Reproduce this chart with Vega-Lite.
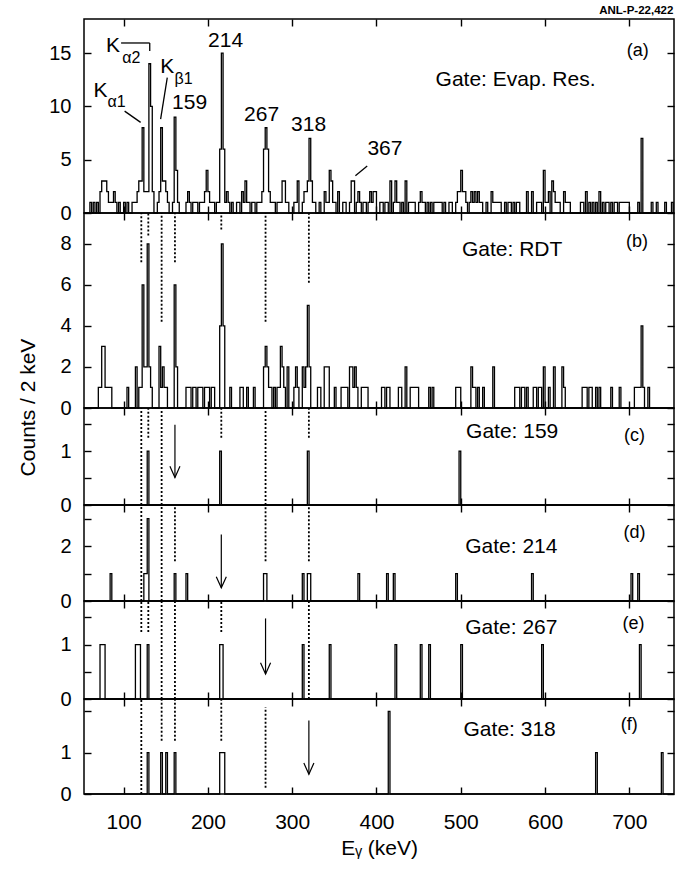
{
"$schema": "https://vega.github.io/schema/vega-lite/v6.json",
"padding": {"left": 16, "top": 5, "right": 0, "bottom": 0},
"background": "white",
"title": {"text": "ANL-P-22,422", "anchor": "end", "fontSize": 11.5, "fontWeight": "bold", "font": "Liberation Sans", "color": "black", "offset": 1, "dx": -4},
"spacing": 0,
"bounds": "flush",
"config": {
 "view": {"stroke": "black", "strokeWidth": 1.5},
 "axis": {"domain": false, "grid": false, "tickColor": "black", "tickWidth": 1.4, "tickSize": -7, "labelColor": "black", "labelFont": "Liberation Sans", "labelFontSize": 20, "labelPadding": 20, "labelFlush": false, "labelOverlap": false, "titleColor": "black", "titleFont": "Liberation Sans", "titleFontSize": 21, "titleFontWeight": "normal"},
 "text": {"font": "Liberation Sans", "color": "black"}
},
"datasets": {
 "sa": [{"e":53,"c":0},{"e":60,"c":1},{"e":62,"c":0},{"e":64,"c":1},{"e":66,"c":0},{"e":68,"c":1},{"e":70,"c":0},{"e":72,"c":2},{"e":74,"c":3},{"e":80,"c":2},{"e":82,"c":1},{"e":88,"c":2},{"e":90,"c":1},{"e":92,"c":0},{"e":94,"c":1},{"e":96,"c":0},{"e":100,"c":1},{"e":102,"c":0},{"e":104,"c":1},{"e":106,"c":0},{"e":110,"c":1},{"e":116,"c":2},{"e":118,"c":3},{"e":122,"c":8},{"e":124,"c":2},{"e":130,"c":14},{"e":132,"c":10},{"e":134,"c":2},{"e":136,"c":0},{"e":140,"c":1},{"e":142,"c":2},{"e":144,"c":8},{"e":146,"c":3},{"e":150,"c":2},{"e":152,"c":1},{"e":154,"c":0},{"e":158,"c":1},{"e":160,"c":9},{"e":162,"c":4},{"e":164,"c":1},{"e":166,"c":0},{"e":174,"c":1},{"e":176,"c":2},{"e":178,"c":1},{"e":180,"c":0},{"e":182,"c":1},{"e":188,"c":0},{"e":190,"c":1},{"e":196,"c":2},{"e":198,"c":4},{"e":200,"c":2},{"e":202,"c":1},{"e":208,"c":0},{"e":210,"c":1},{"e":214,"c":6},{"e":216,"c":15},{"e":218,"c":6},{"e":220,"c":1},{"e":222,"c":2},{"e":224,"c":1},{"e":226,"c":0},{"e":228,"c":1},{"e":230,"c":0},{"e":234,"c":1},{"e":238,"c":0},{"e":240,"c":2},{"e":242,"c":1},{"e":244,"c":3},{"e":246,"c":1},{"e":250,"c":0},{"e":252,"c":1},{"e":256,"c":0},{"e":258,"c":1},{"e":264,"c":2},{"e":266,"c":6},{"e":268,"c":8},{"e":270,"c":6},{"e":272,"c":2},{"e":274,"c":1},{"e":280,"c":0},{"e":282,"c":1},{"e":288,"c":3},{"e":292,"c":1},{"e":296,"c":0},{"e":302,"c":1},{"e":306,"c":3},{"e":308,"c":0},{"e":312,"c":1},{"e":314,"c":2},{"e":318,"c":3},{"e":320,"c":7},{"e":322,"c":3},{"e":324,"c":1},{"e":328,"c":0},{"e":332,"c":1},{"e":334,"c":0},{"e":338,"c":2},{"e":340,"c":1},{"e":344,"c":4},{"e":346,"c":3},{"e":348,"c":1},{"e":352,"c":0},{"e":354,"c":2},{"e":356,"c":0},{"e":360,"c":1},{"e":364,"c":0},{"e":368,"c":1},{"e":370,"c":3},{"e":374,"c":0},{"e":376,"c":1},{"e":378,"c":2},{"e":380,"c":1},{"e":382,"c":0},{"e":384,"c":1},{"e":388,"c":0},{"e":390,"c":1},{"e":392,"c":2},{"e":394,"c":1},{"e":396,"c":2},{"e":400,"c":0},{"e":404,"c":1},{"e":408,"c":0},{"e":410,"c":1},{"e":414,"c":0},{"e":416,"c":3},{"e":418,"c":0},{"e":420,"c":1},{"e":422,"c":3},{"e":424,"c":1},{"e":428,"c":0},{"e":430,"c":1},{"e":432,"c":0},{"e":434,"c":3},{"e":436,"c":0},{"e":438,"c":1},{"e":446,"c":0},{"e":450,"c":1},{"e":452,"c":2},{"e":454,"c":1},{"e":458,"c":0},{"e":460,"c":1},{"e":462,"c":0},{"e":464,"c":1},{"e":466,"c":0},{"e":468,"c":1},{"e":478,"c":0},{"e":480,"c":1},{"e":482,"c":0},{"e":486,"c":1},{"e":490,"c":0},{"e":494,"c":1},{"e":496,"c":2},{"e":500,"c":4},{"e":502,"c":2},{"e":506,"c":1},{"e":508,"c":0},{"e":510,"c":1},{"e":512,"c":2},{"e":514,"c":1},{"e":516,"c":2},{"e":518,"c":1},{"e":520,"c":2},{"e":522,"c":1},{"e":526,"c":0},{"e":530,"c":1},{"e":532,"c":0},{"e":536,"c":2},{"e":538,"c":1},{"e":548,"c":0},{"e":552,"c":1},{"e":554,"c":0},{"e":556,"c":1},{"e":560,"c":0},{"e":562,"c":1},{"e":564,"c":0},{"e":566,"c":1},{"e":570,"c":0},{"e":578,"c":2},{"e":580,"c":0},{"e":584,"c":2},{"e":586,"c":0},{"e":590,"c":1},{"e":596,"c":0},{"e":598,"c":4},{"e":600,"c":1},{"e":604,"c":2},{"e":606,"c":0},{"e":608,"c":3},{"e":610,"c":2},{"e":612,"c":1},{"e":618,"c":0},{"e":622,"c":2},{"e":624,"c":1},{"e":630,"c":0},{"e":642,"c":1},{"e":646,"c":0},{"e":648,"c":2},{"e":650,"c":0},{"e":652,"c":1},{"e":654,"c":0},{"e":656,"c":1},{"e":658,"c":0},{"e":660,"c":1},{"e":662,"c":0},{"e":664,"c":2},{"e":666,"c":0},{"e":668,"c":1},{"e":670,"c":0},{"e":672,"c":1},{"e":676,"c":0},{"e":678,"c":1},{"e":680,"c":0},{"e":682,"c":1},{"e":686,"c":0},{"e":688,"c":1},{"e":700,"c":0},{"e":710,"c":1},{"e":712,"c":0},{"e":714,"c":7},{"e":716,"c":0},{"e":726,"c":1},{"e":728,"c":0},{"e":732,"c":1},{"e":734,"c":0},{"e":742,"c":1},{"e":744,"c":0},{"e":750,"c":1},{"e":752,"c":0},{"e":753,"c":0}],
 "sb": [{"e":53,"c":0},{"e":70,"c":1},{"e":74,"c":3},{"e":78,"c":1},{"e":86,"c":0},{"e":104,"c":1},{"e":106,"c":0},{"e":114,"c":2},{"e":116,"c":0},{"e":118,"c":1},{"e":122,"c":6},{"e":124,"c":2},{"e":128,"c":8},{"e":130,"c":2},{"e":132,"c":1},{"e":134,"c":0},{"e":142,"c":3},{"e":144,"c":1},{"e":146,"c":2},{"e":148,"c":1},{"e":152,"c":0},{"e":160,"c":6},{"e":162,"c":2},{"e":164,"c":0},{"e":174,"c":1},{"e":180,"c":0},{"e":182,"c":1},{"e":186,"c":0},{"e":188,"c":1},{"e":194,"c":0},{"e":196,"c":1},{"e":202,"c":0},{"e":204,"c":1},{"e":208,"c":0},{"e":214,"c":4},{"e":216,"c":8},{"e":218,"c":4},{"e":220,"c":0},{"e":226,"c":1},{"e":228,"c":0},{"e":238,"c":1},{"e":242,"c":0},{"e":246,"c":1},{"e":248,"c":0},{"e":254,"c":1},{"e":256,"c":0},{"e":266,"c":2},{"e":268,"c":3},{"e":270,"c":2},{"e":272,"c":1},{"e":276,"c":0},{"e":278,"c":1},{"e":280,"c":0},{"e":282,"c":1},{"e":286,"c":3},{"e":288,"c":2},{"e":290,"c":1},{"e":292,"c":0},{"e":294,"c":2},{"e":296,"c":0},{"e":302,"c":1},{"e":304,"c":2},{"e":306,"c":1},{"e":308,"c":0},{"e":312,"c":2},{"e":314,"c":1},{"e":316,"c":2},{"e":318,"c":5},{"e":320,"c":2},{"e":322,"c":0},{"e":330,"c":1},{"e":334,"c":0},{"e":338,"c":2},{"e":344,"c":0},{"e":350,"c":1},{"e":352,"c":0},{"e":358,"c":1},{"e":366,"c":0},{"e":368,"c":2},{"e":372,"c":1},{"e":374,"c":2},{"e":376,"c":1},{"e":378,"c":0},{"e":382,"c":1},{"e":390,"c":0},{"e":406,"c":1},{"e":410,"c":0},{"e":412,"c":1},{"e":416,"c":0},{"e":426,"c":1},{"e":430,"c":0},{"e":434,"c":2},{"e":436,"c":0},{"e":440,"c":1},{"e":450,"c":0},{"e":462,"c":1},{"e":464,"c":0},{"e":466,"c":1},{"e":468,"c":0},{"e":494,"c":1},{"e":500,"c":0},{"e":512,"c":2},{"e":514,"c":1},{"e":518,"c":0},{"e":520,"c":1},{"e":522,"c":0},{"e":526,"c":1},{"e":528,"c":0},{"e":538,"c":2},{"e":540,"c":0},{"e":564,"c":1},{"e":570,"c":0},{"e":572,"c":1},{"e":576,"c":0},{"e":578,"c":1},{"e":580,"c":0},{"e":586,"c":1},{"e":590,"c":0},{"e":592,"c":1},{"e":596,"c":0},{"e":598,"c":2},{"e":600,"c":0},{"e":604,"c":1},{"e":606,"c":0},{"e":610,"c":2},{"e":612,"c":0},{"e":620,"c":2},{"e":622,"c":1},{"e":624,"c":0},{"e":644,"c":1},{"e":650,"c":0},{"e":652,"c":1},{"e":656,"c":0},{"e":660,"c":1},{"e":662,"c":0},{"e":664,"c":1},{"e":666,"c":0},{"e":678,"c":1},{"e":680,"c":0},{"e":688,"c":1},{"e":690,"c":0},{"e":706,"c":1},{"e":714,"c":4},{"e":716,"c":1},{"e":718,"c":0},{"e":722,"c":1},{"e":724,"c":0},{"e":753,"c":0}],
 "sc": [{"e":53,"c":0},{"e":128,"c":1},{"e":130,"c":0},{"e":214,"c":1},{"e":216,"c":0},{"e":318,"c":1},{"e":320,"c":0},{"e":498,"c":1},{"e":500,"c":0},{"e":753,"c":0}],
 "sd": [{"e":53,"c":0},{"e":84,"c":1},{"e":86,"c":0},{"e":124,"c":1},{"e":128,"c":3},{"e":130,"c":0},{"e":160,"c":1},{"e":162,"c":0},{"e":174,"c":1},{"e":176,"c":0},{"e":266,"c":1},{"e":270,"c":0},{"e":312,"c":1},{"e":314,"c":0},{"e":318,"c":1},{"e":322,"c":0},{"e":378,"c":1},{"e":380,"c":0},{"e":412,"c":1},{"e":414,"c":0},{"e":420,"c":1},{"e":422,"c":0},{"e":494,"c":1},{"e":496,"c":0},{"e":584,"c":1},{"e":586,"c":0},{"e":702,"c":1},{"e":704,"c":0},{"e":710,"c":1},{"e":712,"c":0},{"e":753,"c":0}],
 "se": [{"e":53,"c":0},{"e":72,"c":1},{"e":78,"c":0},{"e":114,"c":1},{"e":120,"c":0},{"e":128,"c":1},{"e":130,"c":0},{"e":214,"c":1},{"e":218,"c":0},{"e":312,"c":1},{"e":314,"c":0},{"e":344,"c":1},{"e":346,"c":0},{"e":422,"c":1},{"e":424,"c":0},{"e":452,"c":1},{"e":454,"c":0},{"e":462,"c":1},{"e":464,"c":0},{"e":500,"c":1},{"e":502,"c":0},{"e":596,"c":1},{"e":598,"c":0},{"e":712,"c":1},{"e":714,"c":0},{"e":753,"c":0}],
 "sf": [{"e":53,"c":0},{"e":128,"c":1},{"e":130,"c":0},{"e":144,"c":1},{"e":146,"c":0},{"e":150,"c":1},{"e":152,"c":0},{"e":160,"c":1},{"e":162,"c":0},{"e":214,"c":1},{"e":220,"c":0},{"e":414,"c":2},{"e":416,"c":0},{"e":660,"c":1},{"e":662,"c":0},{"e":738,"c":1},{"e":740,"c":0},{"e":753,"c":0}],
 "dots": [
  {"p":"b","e":121,"c":7.1,"c2":9.5},{"p":"b","e":129.3,"c":8.4,"c2":9.5},{"p":"b","e":145.1,"c":4.2,"c2":9.5},{"p":"b","e":160.9,"c":7.1,"c2":9.5},{"p":"b","e":215.9,"c":8.7,"c2":9.5},{"p":"b","e":268.4,"c":4.2,"c2":9.5},{"p":"b","e":319.8,"c":6.1,"c2":9.5},
  {"p":"c","e":121,"c":0,"c2":1.8},{"p":"c","e":129.3,"c":1.25,"c2":1.8},{"p":"c","e":145.1,"c":0,"c2":1.8},{"p":"c","e":215.9,"c":1.25,"c2":1.8},{"p":"c","e":268.4,"c":0,"c2":1.8},{"p":"c","e":319.8,"c":1.25,"c2":1.8},
  {"p":"d","e":121,"c":0,"c2":3.5},{"p":"d","e":145.1,"c":0,"c2":3.5},{"p":"d","e":160.9,"c":1.45,"c2":3.5},{"p":"d","e":268.4,"c":1.45,"c2":3.5},{"p":"d","e":319.8,"c":1.45,"c2":3.5},
  {"p":"e","e":121,"c":1.23,"c2":1.8},{"p":"e","e":129.3,"c":1.23,"c2":1.8},{"p":"e","e":145.1,"c":0,"c2":1.8},{"p":"e","e":160.9,"c":0,"c2":1.8},{"p":"e","e":215.9,"c":1.23,"c2":1.8},{"p":"e","e":319.8,"c":0,"c2":1.8},
  {"p":"f","e":121,"c":0,"c2":2.3},{"p":"f","e":145.1,"c":1.29,"c2":2.3},{"p":"f","e":160.9,"c":1.29,"c2":2.3},{"p":"f","e":215.9,"c":1.29,"c2":2.3},{"p":"f","e":268.4,"c":0.15,"c2":2.1}
 ],
 "arrows": [{"p":"c","e":160.9,"c":1.49,"c2":0.51},{"p":"d","e":215.9,"c":2.42,"c2":0.48},{"p":"e","e":268.4,"c":1.48,"c2":0.46},{"p":"f","e":319.8,"c":1.78,"c2":0.48}],
 "big": [
  {"p":"a","e":221,"c":16.1,"t":"214"},{"p":"a","e":178.3,"c":10.3,"t":"159"},{"p":"a","e":263.7,"c":9.2,"t":"267"},{"p":"a","e":319.5,"c":8.3,"t":"318"},{"p":"a","e":410,"c":6.0,"t":"367"},
  {"p":"a","e":72.7,"c":11.4,"t":"K"},{"p":"a","e":87.5,"c":15.7,"t":"K"},{"p":"a","e":151.8,"c":13.7,"t":"K"},
  {"p":"a","e":565,"c":12.5,"t":"Gate: Evap. Res."},
  {"p":"b","e":561,"c":7.7,"t":"Gate: RDT"},
  {"p":"c","e":561,"c":1.35,"t":"Gate: 159"},
  {"p":"d","e":560,"c":1.96,"t":"Gate: 214"},
  {"p":"e","e":560,"c":1.3,"t":"Gate: 267"},
  {"p":"f","e":558,"c":1.54,"t":"Gate: 318"}
 ],
 "sub": [{"p":"a","e":91.7,"c":10.4,"t":"α1"},{"p":"a","e":109.3,"c":14.5,"t":"α2"},{"p":"a","e":171.2,"c":12.6,"t":"β1"}],
 "tag": [{"p":"a","e":710,"c":15.2,"t":"(a)"},{"p":"b","e":709,"c":8.1,"t":"(b)"},{"p":"c","e":706,"c":1.28,"t":"(c)"},{"p":"d","e":706,"c":2.47,"t":"(d)"},{"p":"e","e":705,"c":1.38,"t":"(e)"},{"p":"f","e":700,"c":1.68,"t":"(f)"}],
 "lead": [{"p":"a","e":101.2,"e2":120.2,"c":9.56,"c2":8.5},{"p":"a","e":151.8,"e2":143.9,"c":12.7,"c2":8.8},{"p":"a","e":389,"e2":375,"c":4.4,"c2":3.5},{"p":"a","e":97,"e2":131,"c":15.95,"c2":15.95},{"p":"a","e":131,"e2":131,"c":15.95,"c2":15.2}]
},
"vconcat": [
 {
  "width": 590, "height": 194,
  "encoding": {
   "x": {"field": "e", "type": "quantitative", "scale": {"domain": [53, 753], "nice": false, "zero": false}, "axis": null},
   "y": {"field": "c", "type": "quantitative", "scale": {"domain": [0, 18.2], "nice": false, "zero": false}, "axis": null}
  },
  "layer": [
   {"data": {"name": "sa"}, "mark": {"type": "line", "interpolate": "step-after", "color": "black", "strokeWidth": 1.3},
    "encoding": {
     "x": {"field": "e", "type": "quantitative", "scale": {"domain": [53, 753], "nice": false, "zero": false}, "axis": {"values": [100,200,300,400,500,600,700], "labels": false, "title": null}},
     "y": {"field": "c", "type": "quantitative", "scale": {"domain": [0, 18.2], "nice": false, "zero": false}, "axis": {"values": [0,5,10,15], "title": null}}
    }},
   {"data": {"name": "sa"}, "mark": {"type": "line", "opacity": 0},
    "encoding": {
     "x": {"field": "e", "type": "quantitative", "scale": {"domain": [53, 753], "nice": false, "zero": false}, "axis": {"orient": "top", "values": [100,200,300,400,500,600,700], "labels": false, "title": null}},
     "y": {"field": "c", "type": "quantitative", "scale": {"domain": [0, 18.2], "nice": false, "zero": false}, "axis": {"orient": "right", "values": [0,5,10,15], "labels": false, "title": null}}
    }},
   {"data": {"name": "big"}, "transform": [{"filter": "datum.p == 'a'"}], "mark": {"type": "text", "fontSize": 21, "align": "center", "baseline": "middle"}, "encoding": {"text": {"field": "t"}}},
   {"data": {"name": "sub"}, "transform": [{"filter": "datum.p == 'a'"}], "mark": {"type": "text", "fontSize": 16, "align": "center", "baseline": "middle"}, "encoding": {"text": {"field": "t"}}},
   {"data": {"name": "tag"}, "transform": [{"filter": "datum.p == 'a'"}], "mark": {"type": "text", "fontSize": 18, "align": "center", "baseline": "middle"}, "encoding": {"text": {"field": "t"}}},
   {"data": {"name": "lead"}, "transform": [{"filter": "datum.p == 'a'"}], "mark": {"type": "rule", "color": "black", "strokeWidth": 1.3}, "encoding": {"x2": {"field": "e2"}, "y2": {"field": "c2"}}}
  ],
  "resolve": {"axis": {"x": "independent", "y": "independent"}}
 },
 {
  "width": 590, "height": 195,
  "encoding": {
   "x": {"field": "e", "type": "quantitative", "scale": {"domain": [53, 753], "nice": false, "zero": false}, "axis": null},
   "y": {"field": "c", "type": "quantitative", "scale": {"domain": [0, 9.5], "nice": false, "zero": false}, "axis": null}
  },
  "layer": [
   {"data": {"name": "sb"}, "mark": {"type": "line", "interpolate": "step-after", "color": "black", "strokeWidth": 1.3},
    "encoding": {
     "x": {"field": "e", "type": "quantitative", "scale": {"domain": [53, 753], "nice": false, "zero": false}, "axis": {"values": [100,200,300,400,500,600,700], "labels": false, "title": null}},
     "y": {"field": "c", "type": "quantitative", "scale": {"domain": [0, 9.5], "nice": false, "zero": false}, "axis": {"values": [0,2,4,6,8], "title": "Counts / 2 keV", "titleX": -56, "titleY": 194, "titleAngle": -90, "titleAlign": "center", "titleBaseline": "middle"}}
    }},
   {"data": {"name": "sb"}, "mark": {"type": "line", "opacity": 0},
    "encoding": {
     "x": {"field": "e", "type": "quantitative", "scale": {"domain": [53, 753], "nice": false, "zero": false}, "axis": {"orient": "top", "values": [100,200,300,400,500,600,700], "labels": false, "title": null}},
     "y": {"field": "c", "type": "quantitative", "scale": {"domain": [0, 9.5], "nice": false, "zero": false}, "axis": {"orient": "right", "values": [0,2,4,6,8], "labels": false, "title": null}}
    }},
   {"data": {"name": "dots"}, "transform": [{"filter": "datum.p == 'b'"}], "mark": {"type": "rule", "color": "black", "strokeWidth": 1.8, "strokeDash": [2, 2]}, "encoding": {"y2": {"field": "c2"}}},
   {"data": {"name": "big"}, "transform": [{"filter": "datum.p == 'b'"}], "mark": {"type": "text", "fontSize": 21, "align": "center", "baseline": "middle"}, "encoding": {"text": {"field": "t"}}},
   {"data": {"name": "tag"}, "transform": [{"filter": "datum.p == 'b'"}], "mark": {"type": "text", "fontSize": 18, "align": "center", "baseline": "middle"}, "encoding": {"text": {"field": "t"}}}
  ],
  "resolve": {"axis": {"x": "independent", "y": "independent"}}
 },
 {
  "width": 590, "height": 97,
  "encoding": {
   "x": {"field": "e", "type": "quantitative", "scale": {"domain": [53, 753], "nice": false, "zero": false}, "axis": null},
   "y": {"field": "c", "type": "quantitative", "scale": {"domain": [0, 1.8], "nice": false, "zero": false}, "axis": null}
  },
  "layer": [
   {"data": {"name": "sc"}, "mark": {"type": "line", "interpolate": "step-after", "color": "black", "strokeWidth": 1.3},
    "encoding": {
     "x": {"field": "e", "type": "quantitative", "scale": {"domain": [53, 753], "nice": false, "zero": false}, "axis": {"values": [100,200,300,400,500,600,700], "labels": false, "title": null}},
     "y": {"field": "c", "type": "quantitative", "scale": {"domain": [0, 1.8], "nice": false, "zero": false}, "axis": {"values": [0,0.5,1,1.5], "labelExpr": "datum.value == 0 ? '0' : datum.value == 1 ? '1' : ''", "title": null}}
    }},
   {"data": {"name": "sc"}, "mark": {"type": "line", "opacity": 0},
    "encoding": {
     "x": {"field": "e", "type": "quantitative", "scale": {"domain": [53, 753], "nice": false, "zero": false}, "axis": {"orient": "top", "values": [100,200,300,400,500,600,700], "labels": false, "title": null}},
     "y": {"field": "c", "type": "quantitative", "scale": {"domain": [0, 1.8], "nice": false, "zero": false}, "axis": {"orient": "right", "values": [0,0.5,1,1.5], "labels": false, "title": null}}
    }},
   {"data": {"name": "dots"}, "transform": [{"filter": "datum.p == 'c'"}], "mark": {"type": "rule", "color": "black", "strokeWidth": 1.8, "strokeDash": [2, 2]}, "encoding": {"y2": {"field": "c2"}}},
   {"data": {"name": "arrows"}, "transform": [{"filter": "datum.p == 'c'"}], "mark": {"type": "rule", "color": "black", "strokeWidth": 1.2}, "encoding": {"y2": {"field": "c2"}}},
   {"data": {"name": "arrows"}, "transform": [{"filter": "datum.p == 'c'"}], "mark": {"type": "point", "shape": "M -0.45 -1 L 0 0 L 0.45 -1", "size": 500, "filled": false, "stroke": "black", "strokeWidth": 1.2, "opacity": 1},
    "encoding": {"y": {"field": "c2", "type": "quantitative", "scale": {"domain": [0, 1.8], "nice": false, "zero": false}, "axis": null}}},
   {"data": {"name": "big"}, "transform": [{"filter": "datum.p == 'c'"}], "mark": {"type": "text", "fontSize": 21, "align": "center", "baseline": "middle"}, "encoding": {"text": {"field": "t"}}},
   {"data": {"name": "tag"}, "transform": [{"filter": "datum.p == 'c'"}], "mark": {"type": "text", "fontSize": 18, "align": "center", "baseline": "middle"}, "encoding": {"text": {"field": "t"}}}
  ],
  "resolve": {"axis": {"x": "independent", "y": "independent"}}
 },
 {
  "width": 590, "height": 96,
  "encoding": {
   "x": {"field": "e", "type": "quantitative", "scale": {"domain": [53, 753], "nice": false, "zero": false}, "axis": null},
   "y": {"field": "c", "type": "quantitative", "scale": {"domain": [0, 3.5], "nice": false, "zero": false}, "axis": null}
  },
  "layer": [
   {"data": {"name": "sd"}, "mark": {"type": "line", "interpolate": "step-after", "color": "black", "strokeWidth": 1.3},
    "encoding": {
     "x": {"field": "e", "type": "quantitative", "scale": {"domain": [53, 753], "nice": false, "zero": false}, "axis": {"values": [100,200,300,400,500,600,700], "labels": false, "title": null}},
     "y": {"field": "c", "type": "quantitative", "scale": {"domain": [0, 3.5], "nice": false, "zero": false}, "axis": {"values": [0,1,2,3], "labelExpr": "datum.value == 0 ? '0' : datum.value == 2 ? '2' : ''", "title": null}}
    }},
   {"data": {"name": "sd"}, "mark": {"type": "line", "opacity": 0},
    "encoding": {
     "x": {"field": "e", "type": "quantitative", "scale": {"domain": [53, 753], "nice": false, "zero": false}, "axis": {"orient": "top", "values": [100,200,300,400,500,600,700], "labels": false, "title": null}},
     "y": {"field": "c", "type": "quantitative", "scale": {"domain": [0, 3.5], "nice": false, "zero": false}, "axis": {"orient": "right", "values": [0,1,2,3], "labels": false, "title": null}}
    }},
   {"data": {"name": "dots"}, "transform": [{"filter": "datum.p == 'd'"}], "mark": {"type": "rule", "color": "black", "strokeWidth": 1.8, "strokeDash": [2, 2]}, "encoding": {"y2": {"field": "c2"}}},
   {"data": {"name": "arrows"}, "transform": [{"filter": "datum.p == 'd'"}], "mark": {"type": "rule", "color": "black", "strokeWidth": 1.2}, "encoding": {"y2": {"field": "c2"}}},
   {"data": {"name": "arrows"}, "transform": [{"filter": "datum.p == 'd'"}], "mark": {"type": "point", "shape": "M -0.45 -1 L 0 0 L 0.45 -1", "size": 500, "filled": false, "stroke": "black", "strokeWidth": 1.2, "opacity": 1},
    "encoding": {"y": {"field": "c2", "type": "quantitative", "scale": {"domain": [0, 3.5], "nice": false, "zero": false}, "axis": null}}},
   {"data": {"name": "big"}, "transform": [{"filter": "datum.p == 'd'"}], "mark": {"type": "text", "fontSize": 21, "align": "center", "baseline": "middle"}, "encoding": {"text": {"field": "t"}}},
   {"data": {"name": "tag"}, "transform": [{"filter": "datum.p == 'd'"}], "mark": {"type": "text", "fontSize": 18, "align": "center", "baseline": "middle"}, "encoding": {"text": {"field": "t"}}}
  ],
  "resolve": {"axis": {"x": "independent", "y": "independent"}}
 },
 {
  "width": 590, "height": 98,
  "encoding": {
   "x": {"field": "e", "type": "quantitative", "scale": {"domain": [53, 753], "nice": false, "zero": false}, "axis": null},
   "y": {"field": "c", "type": "quantitative", "scale": {"domain": [0, 1.8], "nice": false, "zero": false}, "axis": null}
  },
  "layer": [
   {"data": {"name": "se"}, "mark": {"type": "line", "interpolate": "step-after", "color": "black", "strokeWidth": 1.3},
    "encoding": {
     "x": {"field": "e", "type": "quantitative", "scale": {"domain": [53, 753], "nice": false, "zero": false}, "axis": {"values": [100,200,300,400,500,600,700], "labels": false, "title": null}},
     "y": {"field": "c", "type": "quantitative", "scale": {"domain": [0, 1.8], "nice": false, "zero": false}, "axis": {"values": [0,0.5,1,1.5], "labelExpr": "datum.value == 0 ? '0' : datum.value == 1 ? '1' : ''", "title": null}}
    }},
   {"data": {"name": "se"}, "mark": {"type": "line", "opacity": 0},
    "encoding": {
     "x": {"field": "e", "type": "quantitative", "scale": {"domain": [53, 753], "nice": false, "zero": false}, "axis": {"orient": "top", "values": [100,200,300,400,500,600,700], "labels": false, "title": null}},
     "y": {"field": "c", "type": "quantitative", "scale": {"domain": [0, 1.8], "nice": false, "zero": false}, "axis": {"orient": "right", "values": [0,0.5,1,1.5], "labels": false, "title": null}}
    }},
   {"data": {"name": "dots"}, "transform": [{"filter": "datum.p == 'e'"}], "mark": {"type": "rule", "color": "black", "strokeWidth": 1.8, "strokeDash": [2, 2]}, "encoding": {"y2": {"field": "c2"}}},
   {"data": {"name": "arrows"}, "transform": [{"filter": "datum.p == 'e'"}], "mark": {"type": "rule", "color": "black", "strokeWidth": 1.2}, "encoding": {"y2": {"field": "c2"}}},
   {"data": {"name": "arrows"}, "transform": [{"filter": "datum.p == 'e'"}], "mark": {"type": "point", "shape": "M -0.45 -1 L 0 0 L 0.45 -1", "size": 500, "filled": false, "stroke": "black", "strokeWidth": 1.2, "opacity": 1},
    "encoding": {"y": {"field": "c2", "type": "quantitative", "scale": {"domain": [0, 1.8], "nice": false, "zero": false}, "axis": null}}},
   {"data": {"name": "big"}, "transform": [{"filter": "datum.p == 'e'"}], "mark": {"type": "text", "fontSize": 21, "align": "center", "baseline": "middle"}, "encoding": {"text": {"field": "t"}}},
   {"data": {"name": "tag"}, "transform": [{"filter": "datum.p == 'e'"}], "mark": {"type": "text", "fontSize": 18, "align": "center", "baseline": "middle"}, "encoding": {"text": {"field": "t"}}}
  ],
  "resolve": {"axis": {"x": "independent", "y": "independent"}}
 },
 {
  "width": 590, "height": 95,
  "encoding": {
   "x": {"field": "e", "type": "quantitative", "scale": {"domain": [53, 753], "nice": false, "zero": false}, "axis": null},
   "y": {"field": "c", "type": "quantitative", "scale": {"domain": [0, 2.3], "nice": false, "zero": false}, "axis": null}
  },
  "layer": [
   {"data": {"name": "sf"}, "mark": {"type": "line", "interpolate": "step-after", "color": "black", "strokeWidth": 1.3},
    "encoding": {
     "x": {"field": "e", "type": "quantitative", "scale": {"domain": [53, 753], "nice": false, "zero": false}, "axis": {"values": [100,200,300,400,500,600,700], "format": "d", "labelFontSize": 21, "labelPadding": 24, "title": "Eᵧ  (keV)", "titlePadding": 5}},
     "y": {"field": "c", "type": "quantitative", "scale": {"domain": [0, 2.3], "nice": false, "zero": false}, "axis": {"values": [0,1,2], "labelExpr": "datum.value == 0 ? '0' : datum.value == 1 ? '1' : ''", "title": null}}
    }},
   {"data": {"name": "sf"}, "mark": {"type": "line", "opacity": 0},
    "encoding": {
     "x": {"field": "e", "type": "quantitative", "scale": {"domain": [53, 753], "nice": false, "zero": false}, "axis": {"orient": "top", "values": [100,200,300,400,500,600,700], "labels": false, "title": null}},
     "y": {"field": "c", "type": "quantitative", "scale": {"domain": [0, 2.3], "nice": false, "zero": false}, "axis": {"orient": "right", "values": [0,1,2], "labels": false, "title": null}}
    }},
   {"data": {"name": "dots"}, "transform": [{"filter": "datum.p == 'f'"}], "mark": {"type": "rule", "color": "black", "strokeWidth": 1.8, "strokeDash": [2, 2]}, "encoding": {"y2": {"field": "c2"}}},
   {"data": {"name": "arrows"}, "transform": [{"filter": "datum.p == 'f'"}], "mark": {"type": "rule", "color": "black", "strokeWidth": 1.2}, "encoding": {"y2": {"field": "c2"}}},
   {"data": {"name": "arrows"}, "transform": [{"filter": "datum.p == 'f'"}], "mark": {"type": "point", "shape": "M -0.45 -1 L 0 0 L 0.45 -1", "size": 500, "filled": false, "stroke": "black", "strokeWidth": 1.2, "opacity": 1},
    "encoding": {"y": {"field": "c2", "type": "quantitative", "scale": {"domain": [0, 2.3], "nice": false, "zero": false}, "axis": null}}},
   {"data": {"name": "big"}, "transform": [{"filter": "datum.p == 'f'"}], "mark": {"type": "text", "fontSize": 21, "align": "center", "baseline": "middle"}, "encoding": {"text": {"field": "t"}}},
   {"data": {"name": "tag"}, "transform": [{"filter": "datum.p == 'f'"}], "mark": {"type": "text", "fontSize": 18, "align": "center", "baseline": "middle"}, "encoding": {"text": {"field": "t"}}}
  ],
  "resolve": {"axis": {"x": "independent", "y": "independent"}}
 }
]
}
